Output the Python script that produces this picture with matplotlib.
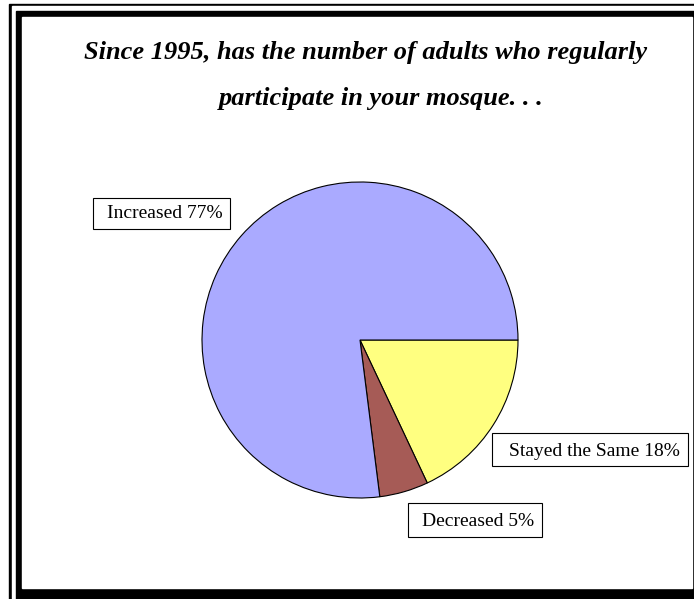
import matplotlib
matplotlib.use('Agg')
import matplotlib.pyplot as plt
from matplotlib.patches import Rectangle

# data
labels = ['Stayed the Same', 'Decreased', 'Increased']
values = [18, 5, 77]
colors = ['#FFFF80', '#A65B56', '#AAAAFF']

W, H = 694, 599
fig = plt.figure(figsize=(W / 100, H / 100), dpi=100)
ax = fig.add_axes([0, 0, 1, 1])

# work in pixel units, y measured from the top
def py(y):
    return H - y

# double frame (right/bottom run off the canvas)
ax.add_patch(Rectangle((9, py(700)), 800, 696, color='black', zorder=0))
ax.add_patch(Rectangle((12, py(700)), 800, 694, color='white', zorder=0))
ax.add_patch(Rectangle((16, py(588) - 20), 800, 20 + 588 - 11, color='black', zorder=0))
ax.add_patch(Rectangle((22, py(588)), 692 - 22, 588 - 17, color='white', zorder=0))

ax.pie(values, colors=colors, startangle=0, counterclock=False,
       center=(360, py(340)), radius=158, frame=True,
       wedgeprops=dict(edgecolor='black', linewidth=0.8))

ax.set_xlim(0, W)
ax.set_ylim(0, H)
ax.set_aspect('auto')
ax.axis('off')

title_font = dict(family='Liberation Serif', fontsize=19, fontweight='bold',
                  fontstyle='italic', ha='center', va='center')
ax.text(366, py(52), 'Since 1995, has the number of adults who regularly', **title_font)
ax.text(381, py(99), 'participate in your mosque. . .', **title_font)

# label boxes: (left, top, width, height) and text start (x, baseline) in pixels
box_pos = {'Increased': (93, 198, 137, 31, 107, 218),
           'Stayed the Same': (492, 433, 196, 33, 509, 456),
           'Decreased': (408, 503, 134, 34, 422, 526)}
for lab, val in zip(labels, values):
    bx, by, bw, bh, tx, ty = box_pos[lab]
    ax.add_patch(Rectangle((bx, py(by + bh)), bw, bh, facecolor='white',
                           edgecolor='black', linewidth=0.8, zorder=3))
    ax.text(tx, py(ty), f'{lab} {val}%', family='Liberation Serif', fontsize=14,
            ha='left', va='baseline', zorder=4)

fig.savefig('out.png', dpi=100)
